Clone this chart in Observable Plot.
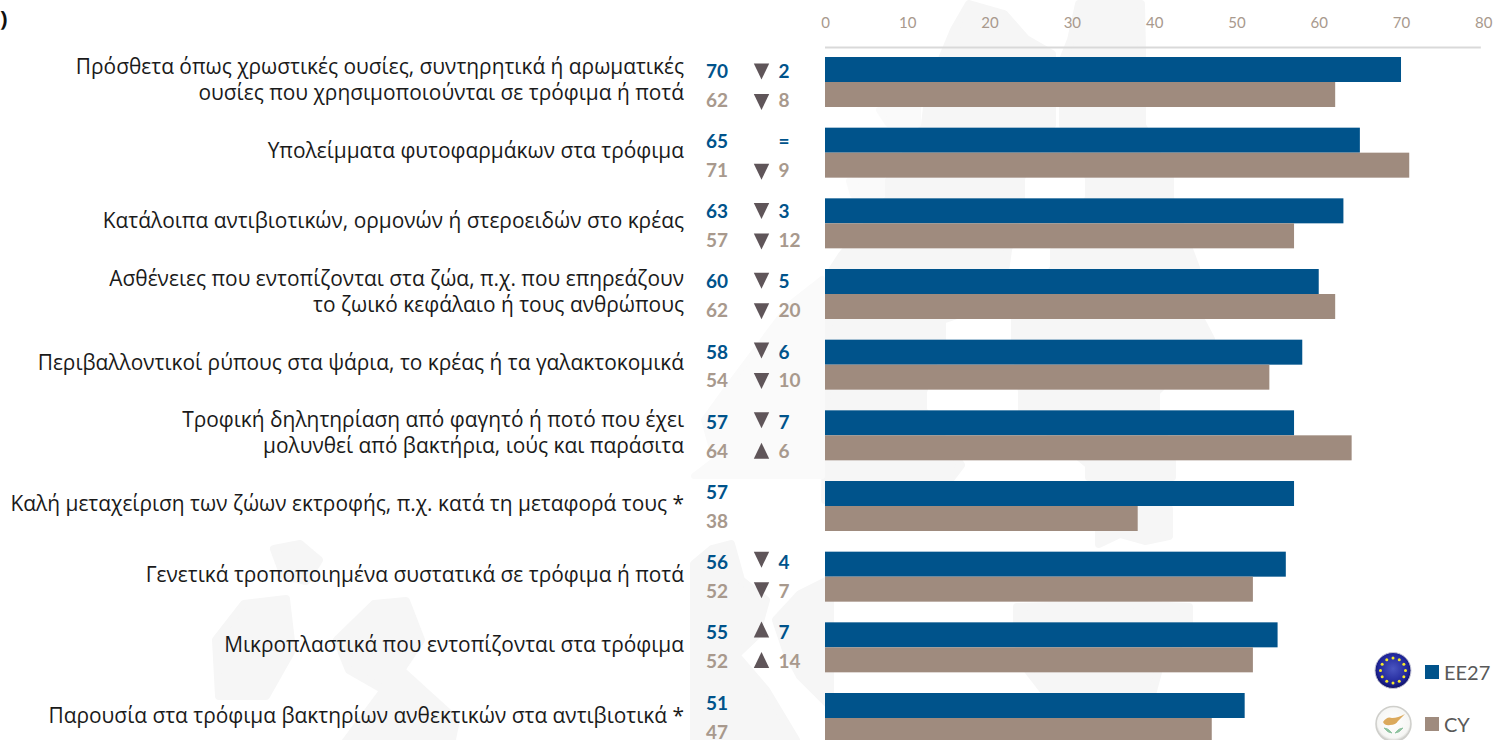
<!DOCTYPE html>
<html><head><meta charset="utf-8">
<script src="https://cdn.jsdelivr.net/npm/d3@7"></script>
<script src="https://cdn.jsdelivr.net/npm/@observablehq/plot@0.6"></script>
<style>
html,body{margin:0;padding:0;background:#fff;width:1493px;height:740px;overflow:hidden}
#wrap{position:relative;width:1493px;height:740px;overflow:hidden}
#chart{position:absolute;left:0;top:0}
#chart svg{background:transparent}
#decor{position:absolute;left:0;top:0}
.cut{position:absolute;left:0;top:5px;font:bold 22px/24px "Open Sans";color:#111}
.lg{position:absolute;font:20px Lato;color:#595959;left:1444px}
.sw{position:absolute;left:1425px;width:14px;height:14px}
</style></head><body><div id="wrap">
<svg id="decor" width="1493" height="740" xmlns="http://www.w3.org/2000/svg">
  <defs>
    <radialGradient id="euG" cx="50%" cy="45%" r="55%"><stop offset="0%" stop-color="#4a55c0"/><stop offset="75%" stop-color="#20269a"/><stop offset="100%" stop-color="#0c1060"/></radialGradient>
    <radialGradient id="cyG" cx="50%" cy="45%" r="55%"><stop offset="0%" stop-color="#ffffff"/><stop offset="82%" stop-color="#f6f6f4"/><stop offset="100%" stop-color="#c9c9c5"/></radialGradient>
  </defs>
  <g fill="#F6F6F6" stroke="#F6F6F6" stroke-linejoin="round" stroke-width="8">
    <path d="M969,4 L954,30 L929,90 L925,125 L889,180 L889,198 L842,255 L829,275 L825,500 L945,486 L961,465 L923,410 L923,392 L942,339 L942,320 L1001,300 L1008,250 L1021,198 L1021,178 L1052,125 L1052,54 L1026,39 L1004,14Z"/>
    <path d="M1079,4 L1071,40 L1063,60 L1063,125 L1089,178 L1089,198 L1054,250 L1054,268 L1015,320 L1015,339 L1022,392 L1022,410 L1089,465 L1089,477 L1172,477 L1172,462 L1156,410 L1156,392 L1211,339 L1201,320 L1196,268 L1170,198 L1170,178 L1142,125 L1142,50 L1141,4Z"/>
    <path d="M1099,509 L1099,544 L1120,534 L1145,541 L1169,536 L1169,509Z"/>
    <path d="M1017,607 L1017,640 L1027,669 L1044,691 L1153,691 L1161,661 L1189,636 L1189,607 L1120,604Z"/>
    <path d="M694,564 L712,549 L731,544 L741,580 L766,600 L756,636 L736,655 L766,690 L796,740 L694,740Z"/>
    <path d="M776,620 L800,594 L830,579 L830,706 L800,676 L786,650Z"/>
    <path d="M274,549 L300,544 L319,560 L306,581 L284,576Z"/>
    <path d="M216,640 L244,604 L286,599 L292,650 L266,696 L219,696Z"/>
    <path d="M337,640 L374,604 L406,601 L421,640 L401,670 L456,720 L451,744 L344,744 L384,690 L349,670Z"/>
  </g>
  <g fill="#FAFAFA" stroke="#FAFAFA" stroke-width="6" stroke-linejoin="round">
    <path d="M879,110 L918,103 L918,124 L888,124Z"/>
    <path d="M849,181 L882,178 L882,195 L853,195Z"/>
    <path d="M694,476 L715,460 L704,420 L730,384 L760,344 L790,304 L822,279 L822,476 L760,476Z"/>
  </g>
  <g id="flags"></g>
</svg>
<div class="cut">)</div>
<div id="chart"></div>
<span class="sw" style="top:665px;background:#00538B"></span><span class="lg" style="top:660px">EE27</span>
<span class="sw" style="top:717px;background:#9F8B7E"></span><span class="lg" style="top:712px">CY</span>
</div>
<script>
const categories = [
 "Πρόσθετα όπως χρωστικές ουσίες, συντηρητικά ή αρωματικές\nουσίες που χρησιμοποιούνται σε τρόφιμα ή ποτά",
 "Υπολείμματα φυτοφαρμάκων στα τρόφιμα",
 "Κατάλοιπα αντιβιοτικών, ορμονών ή στεροειδών στο κρέας",
 "Ασθένειες που εντοπίζονται στα ζώα, π.χ. που επηρεάζουν\nτο ζωικό κεφάλαιο ή τους ανθρώπους",
 "Περιβαλλοντικοί ρύπους στα ψάρια, το κρέας ή τα γαλακτοκομικά",
 "Τροφική δηλητηρίαση από φαγητό ή ποτό που έχει\nμολυνθεί από βακτήρια, ιούς και παράσιτα",
 "Καλή μεταχείριση των ζώων εκτροφής, π.χ. κατά τη μεταφορά τους *",
 "Γενετικά τροποποιημένα συστατικά σε τρόφιμα ή ποτά",
 "Μικροπλαστικά που εντοπίζονται στα τρόφιμα",
 "Παρουσία στα τρόφιμα βακτηρίων ανθεκτικών στα αντιβιοτικά *"
];
const ee27 = [70,65,63,60,58,57,57,56,55,51];
const cy   = [62,71,57,62,54,64,38,52,52,47];
const ee27Change = [-2,0,-3,-5,-6,-7,null,-4,7,null];
const cyChange   = [-8,-9,-12,-20,-10,6,null,-7,14,null];
const xTicks = [0,10,20,30,40,50,60,70,80];
const series = ["EE27","CY"];
const colors = ["#00538B","#9F8B7E"];
const textColors = ["#00538B","#A8998D"];

const rows = categories.flatMap((c,i)=>[
  {c,i,s:"EE27",v:ee27[i],d:ee27Change[i]},
  {c,i,s:"CY",v:cy[i],d:cyChange[i]}
]);
const valueDy = r => (r.s==="EE27" ? 1.5 : 5.5) - r.i*0.44;
const triDy = r => (r.s==="EE27" ? 1.5 : 7) - r.i*0.93;
const first = categories[0];
// Narrow triangle pointing up, 15 wide and 16 tall, centred on the dot.
const tallTriangle = {draw(ctx){ctx.moveTo(0,-8);ctx.lineTo(7.7,8);ctx.lineTo(-7.7,8);ctx.closePath();}};

const chart = Plot.plot({
  width:1493, height:740,
  marginLeft:825, marginRight:9.7, marginTop:57, marginBottom:-3,
  style:{background:"transparent",overflow:"visible"},
  x:{domain:[0,80],axis:null},
  y:{domain:series,axis:null,padding:0,round:false},
  fy:{domain:categories,axis:null,paddingInner:0.2925,paddingOuter:0,round:false,label:null},
  color:{domain:series,range:colors},
  marks:[
    Plot.axisX(xTicks,{anchor:"top",tickSize:0,tickPadding:30,label:null,fontSize:15,fill:"#A8998D",fontFamily:"Lato",facetAnchor:"top"}),
    Plot.ruleY([{c:first}],{fy:"c",y:()=>"EE27",x1:()=>0,x2:()=>79.7,dy:-22.5,stroke:"#D9D9D9",strokeWidth:2}),
    Plot.barX(rows,{fy:"c",y:"s",x:"v",fill:"s"}),
    Plot.text(categories,{fy:d=>d,x:()=>0,text:d=>d,textAnchor:"end",dx:-141.5,dy:-3.8,frameAnchor:"middle",fontFamily:"Open Sans",fontSize:20.9,lineHeight:1.25,fill:"#1a1a1a"}),
    ...rows.map(r=>Plot.text([r],{fy:"c",y:"s",x:()=>0,text:"v",textAnchor:"middle",dx:-108.5,dy:valueDy(r),fill:textColors[series.indexOf(r.s)],fontFamily:"Lato",fontWeight:700,fontSize:19})),
    ...rows.filter(r=>r.d!==null).map(r=>Plot.text([r],{fy:"c",y:"s",x:()=>0,text:d=>d.d===0?"=":String(Math.abs(d.d)),textAnchor:"start",dx:-47,dy:valueDy(r),fill:textColors[series.indexOf(r.s)],fontFamily:"Lato",fontWeight:700,fontSize:19})),
    ...rows.filter(r=>r.d).map(r=>Plot.dot([r],{fy:"c",y:"s",x:()=>0,symbol:tallTriangle,rotate:r.d<0?180:0,r:6,fill:"#5F5559",stroke:null,dx:-64,dy:triDy(r)}))
  ]
});
document.getElementById("chart").append(chart);

// Decorative flag badges beside the legend
const flags = d3.select("#flags");
flags.append("circle").attr("cx",1393).attr("cy",670.5).attr("r",18).attr("fill","url(#euG)").attr("stroke","#c8c8d8");
d3.range(12).forEach(k=>{
  const a=k*Math.PI/6;
  flags.append("circle").attr("cx",1393+12.5*Math.sin(a)).attr("cy",670.5-12.5*Math.cos(a)).attr("r",1.5).attr("fill","#F5E829");
});
flags.append("circle").attr("cx",1393.5).attr("cy",724).attr("r",17.5).attr("fill","url(#cyG)").attr("stroke","#cfcfcb").attr("stroke-width",1.5);
flags.append("path").attr("d","M1383,722 Q1387,716 1392,718 Q1398,718 1405,714 L1398,721 Q1396,725 1390,725 Q1385,726 1383,722Z").attr("fill","#DBA95C");
flags.append("path").attr("d","M1384,728 Q1388,733 1392,733 Q1388,728 1384,728Z M1403,728 Q1399,733 1395,733 Q1399,728 1403,728Z").attr("fill","#8FC3A0").attr("stroke","#8FC3A0");
</script></body></html>
